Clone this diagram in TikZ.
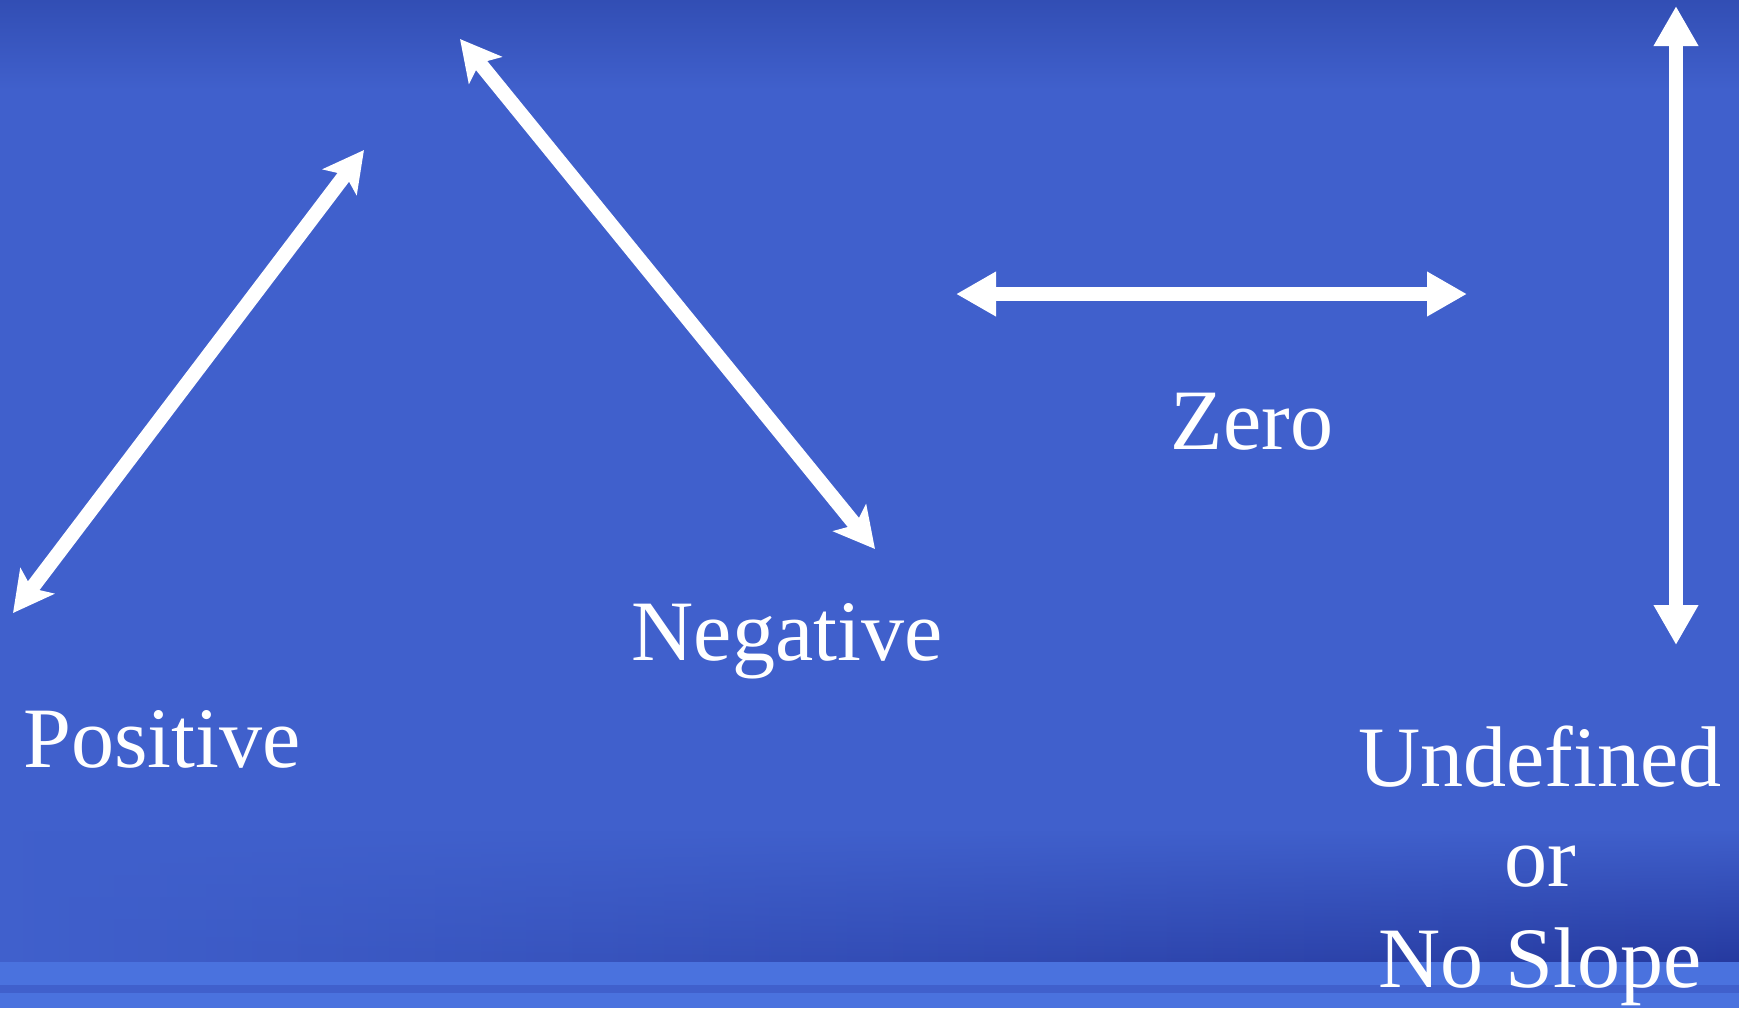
\documentclass[tikz,border=0pt]{standalone}
\usepackage{fontspec}
\setmainfont{Liberation Serif}
\usetikzlibrary{arrows.meta,fadings}
\definecolor{slidebg}{RGB}{64,96,204}
\definecolor{slidetop}{RGB}{50,78,180}
\definecolor{slidedark}{RGB}{38,58,160}
\definecolor{slidestripe}{RGB}{74,114,222}
\begin{document}
\begin{tikzpicture}[x=0.1mm, y=-0.1mm,
  slope/.style={draw=white, line width=1.45mm},
  slant/.style={slope, {Stealth[length=4mm, width=4.2mm, inset=0.9mm]}-{Stealth[length=4mm, width=4.2mm, inset=0.9mm]}},
  level/.style={slope, {Triangle[length=4mm, width=4.2mm]}-{Triangle[length=4mm, width=4.2mm]}},
  label/.style={text=white, inner sep=0pt, anchor=base, font=\fontsize{24.5}{28.5}\selectfont}
]
  % background
  \useasboundingbox (0,0) rectangle (1739,1008);
  \fill[slidebg] (0,0) rectangle (1739,1008);
  \shade[top color=slidetop, bottom color=slidebg] (0,0) rectangle (1739,90);
  \shade[left color=slidebg, right color=slidedark, path fading=north] (0,830) rectangle (1739,962);
  \fill[slidestripe] (0,962) rectangle (1739,1008);
  \fill[slidebg] (0,985) rectangle (1739,993);

  % end points of the four lines
  \coordinate (pos1) at (13,613);
  \coordinate (pos2) at (364,150);
  \coordinate (neg1) at (460,39);
  \coordinate (neg2) at (875,549);
  \coordinate (zero1) at (956,294);
  \coordinate (zero2) at (1467,294);
  \coordinate (undef1) at (1676,6);
  \coordinate (undef2) at (1676,645);

  % lines
  \draw[slant] (pos1) -- (pos2);
  \draw[slant] (neg1) -- (neg2);
  \draw[level] (zero1) -- (zero2);
  \draw[level] (undef1) -- (undef2);

  % labels (the last one is placed by its bottom line)
  \node[label] (positive) at (162,767) {Positive};
  \node[label] (negative) at (787,660) {Negative};
  \node[label] (zero) at (1252,449) {Zero};
  \node[label, align=center] (undefined) at (1540,987) {Undefined\\or\\No Slope};
\end{tikzpicture}
\end{document}
